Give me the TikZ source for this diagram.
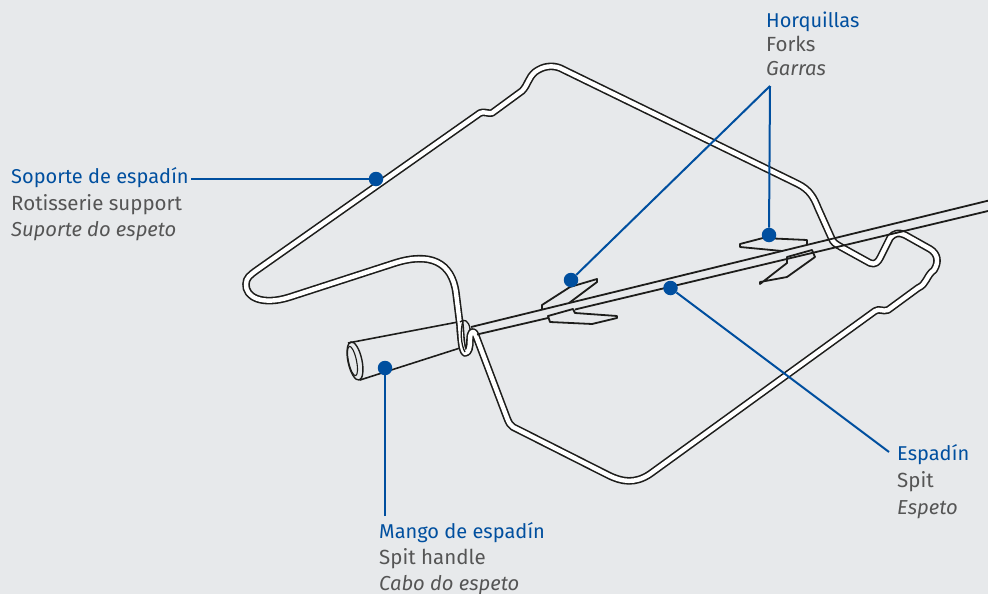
\documentclass[tikz,border=0pt]{standalone}
\usepackage{fontspec}
\setmainfont{Fira Sans}
\definecolor{bg}{HTML}{E7E9EB}
\definecolor{lblue}{HTML}{004F9F}
\definecolor{lgray}{HTML}{555555}
\definecolor{ink}{HTML}{1D1D1B}
\tikzset{
 wire/.style={draw=ink,line width=7.6pt,line join=round,line cap=round},
 wirein/.style={draw=white,line width=4.4pt,line join=round,line cap=round},
 thin ink/.style={draw=ink,line width=1.8pt,line join=round},
 leader/.style={draw=lblue,line width=2pt},
 dot/.style={circle,fill=lblue,inner sep=0pt,minimum size=14.5pt},
 es/.style={anchor=base west,inner sep=0pt,text=lblue,font=\fontsize{20}{24}\selectfont},
 en/.style={anchor=base west,inner sep=0pt,text=lgray,font=\fontsize{20.5}{24}\selectfont},
 pt/.style={anchor=base west,inner sep=0pt,text=lgray,font=\fontsize{20.2}{24}\selectfont\itshape},
}
\def\wirepath{(465,353) .. controls (461,350) and (461,335) .. (460,325)
 -- (456,293) .. controls (452,262) and (430,252) .. (395,263)
 -- (290,297) .. controls (262,306) and (245,297) .. (246,284) .. controls (246,278) and (250,275) .. (257,270)
 -- (480,113) .. controls (484,111) and (488,114) .. (492,113)
 -- (522,91) .. controls (528,85) and (528,78) .. (535,72) .. controls (543,66) and (552,65) .. (560,68)
 -- (798,184) .. controls (810,190) and (814,198) .. (818,208)
 -- (831,237) .. controls (833,243) and (836,244) .. (841,247)
 -- (870,263) .. controls (875,265) and (878,262) .. (880,258)
 -- (890,238) .. controls (894,233) and (899,232) .. (905,235)
 -- (930,249) .. controls (938,254) and (939,262) .. (934,270)
 .. controls (926,276) and (927,284) .. (918,288)
 -- (888,310) .. controls (882,312) and (880,308) .. (875,311)
 -- (650,474) .. controls (635,484) and (622,482) .. (608,475)
 -- (513,427) .. controls (510,425) and (509,423) .. (507,418)
 -- (476,336) .. controls (473,328) and (470,332) .. (470,340)
 .. controls (470,347) and (469,353) .. (465,353)}
\begin{document}
\begin{tikzpicture}[x=1pt,y=-1pt]
\useasboundingbox[fill=bg] (0,0) rectangle (988,594);
% handle
\draw[thin ink,line width=1.6pt] (348,343) -- (458,322);
\draw[thin ink,line width=1.6pt] (360,380) -- (460,348);
\draw[thin ink,line width=1.4pt,rotate around={12:(355,361)}] (355,361) ellipse (7pt and 19.5pt);
\draw[thin ink,line width=1.1pt,rotate around={12:(352.5,361)}] (352.5,361) ellipse (4pt and 15pt);
\draw[thin ink,line width=1.1pt] (458,322) .. controls (456,330) and (458,342) .. (461,349);
% forks
\draw[thin ink,fill=bg] (807,244) -- (807,240) -- (763,238) -- (740,244) -- (740,247) -- (782,251);
\draw[thin ink,fill=bg] (787,263) -- (787,257) -- (812,250) -- (815,257) -- (787,277) -- (760,282) -- (760,284) -- cycle;
\draw[thin ink,fill=bg] (542,309) -- (542,305) -- (570,287) -- (597,279) -- (597,282) -- (569,303);
\draw[thin ink,fill=bg] (548,316) -- (573,309) -- (575,313) -- (617,316) -- (617,318) -- (592,324) -- (550,322) -- cycle;
% wire
\draw[wire] \wirepath;
\draw[wirein] \wirepath;
% spit
\draw[thin ink] (471,327) -- (988,200.7);
\draw[thin ink] (575,309.5) -- (988,211);
\draw[thin ink] (477,334.5) -- (548,318);
% ring at the handle
\draw[thin ink,line width=1.3pt] (460,322) .. controls (464,318) and (469,321) .. (470,329);
\draw[thin ink,line width=1.3pt] (463,321) .. controls (460,331) and (461,345) .. (465,352);
% dots
\node[dot] (dsup) at (376,179) {};
\node[dot] (dhan) at (385,368) {};
\node[dot] (dfl) at (571,280) {};
\node[dot] (dfr) at (769,235) {};
\node[dot] (dspit) at (670.5,288) {};
\coordinate (csup) at (191,179);
\coordinate (chan) at (385,516);
\coordinate (cfork) at (770,86);
\coordinate (cspit) at (889,452);
\draw[leader] (csup) -- (dsup);
\draw[leader] (chan) -- (dhan);
\draw[leader] (cfork) -- (dfl);
\draw[leader] (cfork) -- (dfr);
\draw[leader] (cspit) -- (dspit);
% labels
\node[es] (t1) at (766,28) {Horquillas};
\node[en] (t2) at (766,52) {Forks};
\node[pt] (t3) at (766,75) {Garras};
\node[es] (t4) at (11,183) {Soporte de espadín};
\node[en] (t5) at (11,210) {Rotisserie support};
\node[pt] (t6) at (11,236) {Suporte do espeto};
\node[es] (t7) at (897,460) {Espadín};
\node[en] (t8) at (897,487) {Spit};
\node[pt] (t9) at (897,514) {Espeto};
\node[es] (t10) at (379,538) {Mango de espadín};
\node[en] (t11) at (379,564) {Spit handle};
\node[pt] (t12) at (379,590) {Cabo do espeto};
\end{tikzpicture}
\end{document}
